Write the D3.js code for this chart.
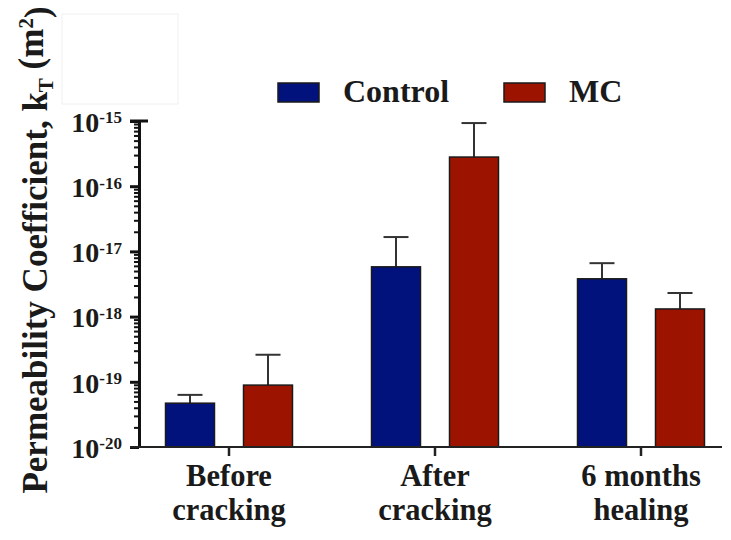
<!DOCTYPE html>
<html>
<head>
<meta charset="utf-8">
<script src="https://cdn.jsdelivr.net/npm/d3@7"></script>
<style>
  html, body { margin: 0; padding: 0; background: #fff; }
  svg text { font-family: "Liberation Serif", "Tinos", "Times New Roman", Times, "DejaVu Serif", serif; font-weight: bold; fill: #1a1a1a; }
</style>
</head>
<body>
<svg id="chart" width="731" height="540"></svg>
<script>
// Permeability coefficient (m^2) per stage, mean and upper error (SD)
const categories = ["Before cracking", "After cracking", "6 months healing"];
const categoryLines = [["Before", "cracking"], ["After", "cracking"], ["6 months", "healing"]];
const series = ["Control", "MC"];
const controlMean = [4.7e-20, 5.8e-18, 3.8e-18];
const controlSD   = [1.6e-20, 1.08e-17, 2.8e-18];
const mcMean      = [8.9e-20, 2.8e-16, 1.31e-18];
const mcSD        = [1.71e-19, 6.5e-16, 0.99e-18];
const yTickExponents = [-15, -16, -17, -18, -19, -20];

const colors = { Control: "#02127d", MC: "#9c1400" };

const rows = categories.map((c, i) => ({
  category: c,
  values: [
    { key: "Control", mean: controlMean[i], sd: controlSD[i] },
    { key: "MC", mean: mcMean[i], sd: mcSD[i] }
  ]
}));

const svg = d3.select("#chart");

const y = d3.scaleLog().domain([1e-20, 1e-15]).range([447, 121]);
const x = d3.scaleBand().domain(categories).range([126, 744]);
const x1 = d3.scaleBand().domain(series).range([25, 181]).paddingInner(0.372).paddingOuter(0.186);

const axisLeftX = 139;
const axisRightX = 722;

// faint frame in the upper-left corner
svg.append("rect")
  .attr("x", 62).attr("y", 14).attr("width", 116).attr("height", 90)
  .attr("fill", "none").attr("stroke", "#f0f0f0").attr("stroke-width", 1);

// bars
const groups = svg.append("g").selectAll("g")
  .data(rows).join("g")
  .attr("transform", d => `translate(${x(d.category)},0)`);

// error bars (upper only)
groups.selectAll("g.err")
  .data(d => d.values).join("g").attr("class", "err")
  .each(function(d) {
    const g = d3.select(this);
    const cx = x1(d.key) + x1.bandwidth() / 2;
    const top = y(d.mean + d.sd);
    g.append("line").attr("x1", cx).attr("x2", cx)
      .attr("y1", y(d.mean)).attr("y2", top)
      .attr("stroke", "#333").attr("stroke-width", 2);
    g.append("line").attr("x1", cx - 12.5).attr("x2", cx + 12.5)
      .attr("y1", top).attr("y2", top)
      .attr("stroke", "#333").attr("stroke-width", 2);
  });

groups.selectAll("rect")
  .data(d => d.values).join("rect")
  .attr("x", d => x1(d.key))
  .attr("width", x1.bandwidth())
  .attr("y", d => y(d.mean))
  .attr("height", d => y(1e-20) - y(d.mean))
  .attr("fill", d => colors[d.key])
  .attr("stroke", "#1a1a1a")
  .attr("stroke-width", 1.5);

// y axis: minor ticks
const minorTicks = y.ticks().filter(v => {
  const m = v / Math.pow(10, Math.floor(Math.log10(v) + 1e-9));
  return Math.round(m) !== 1;
});
svg.append("g")
  .attr("transform", `translate(${axisLeftX},0)`)
  .call(d3.axisLeft(y).tickValues(minorTicks).tickSize(5).tickFormat(""))
  .call(g => g.select(".domain").remove())
  .call(g => g.selectAll(".tick line").attr("stroke", "#111").attr("stroke-width", 2));

// y axis: major ticks and labels
const majorTicks = yTickExponents.map(e => Math.pow(10, e));
const yAxis = svg.append("g")
  .attr("transform", `translate(${axisLeftX},0)`)
  .call(d3.axisLeft(y).tickValues(majorTicks).tickSize(9).tickSizeOuter(0).tickPadding(17)
    .tickFormat(""));
yAxis.select(".domain").attr("stroke", "#111").attr("stroke-width", 3);
yAxis.selectAll(".tick line").attr("stroke", "#111").attr("stroke-width", 3);
yAxis.selectAll(".tick text")
  .attr("x", -17)
  .attr("dy", "0.37em")
  .style("font-size", "28px")
  .each(function(d) {
    const t = d3.select(this);
    const e = Math.round(Math.log10(d));
    t.append("tspan").text("10");
    t.append("tspan").attr("dy", "-0.5em").style("font-size", "17px").text(String(e));
  });

// cap at the top of the y axis
svg.append("line")
  .attr("x1", axisLeftX - 9).attr("x2", axisLeftX + 9)
  .attr("y1", y(1e-15)).attr("y2", y(1e-15))
  .attr("stroke", "#111").attr("stroke-width", 3);

// x axis
const xAxis = svg.append("g")
  .attr("transform", `translate(0,${y(1e-20)})`)
  .call(d3.axisBottom(x).tickSize(9).tickSizeOuter(0).tickFormat(""));
xAxis.select(".domain")
  .attr("d", `M${axisLeftX - 9},0H${axisRightX}`)
  .attr("stroke", "#222").attr("stroke-width", 2);
xAxis.selectAll(".tick line").attr("stroke", "#222").attr("stroke-width", 2.5);

// category labels, two lines each
const catLabels = svg.append("g").selectAll("g")
  .data(categories).join("g")
  .attr("transform", d => `translate(${x(d) + x.bandwidth() / 2},0)`);
catLabels.each(function(d, i) {
  const g = d3.select(this);
  categoryLines[i].forEach((line, j) => {
    g.append("text")
      .attr("text-anchor", "middle")
      .attr("y", 486 + j * 34)
      .style("font-size", "30.5px")
      .text(line);
  });
});

// y axis title
const title = svg.append("text")
  .attr("transform", "translate(47,250) rotate(-90)")
  .attr("text-anchor", "middle")
  .style("font-size", "35px");
title.append("tspan").text("Permeability Coefficient, k");
title.append("tspan").attr("dy", "0.3em").style("font-size", "21px").text("T");
title.append("tspan").attr("dy", "-0.3em").text(" (m");
title.append("tspan").attr("dy", "-0.45em").style("font-size", "21px").text("2");
title.append("tspan").attr("dy", "0.45em").text(")");

// legend
const legend = svg.append("g");
const legendX = [278, 504];
series.forEach((s, i) => {
  legend.append("rect")
    .attr("x", legendX[i]).attr("y", 83).attr("width", 41).attr("height", 19)
    .attr("fill", colors[s]).attr("stroke", "#1a1a1a").attr("stroke-width", 1.5);
  legend.append("text")
    .attr("x", legendX[i] + 65).attr("y", 102)
    .style("font-size", "32px")
    .text(s);
});
</script>
</body>
</html>
